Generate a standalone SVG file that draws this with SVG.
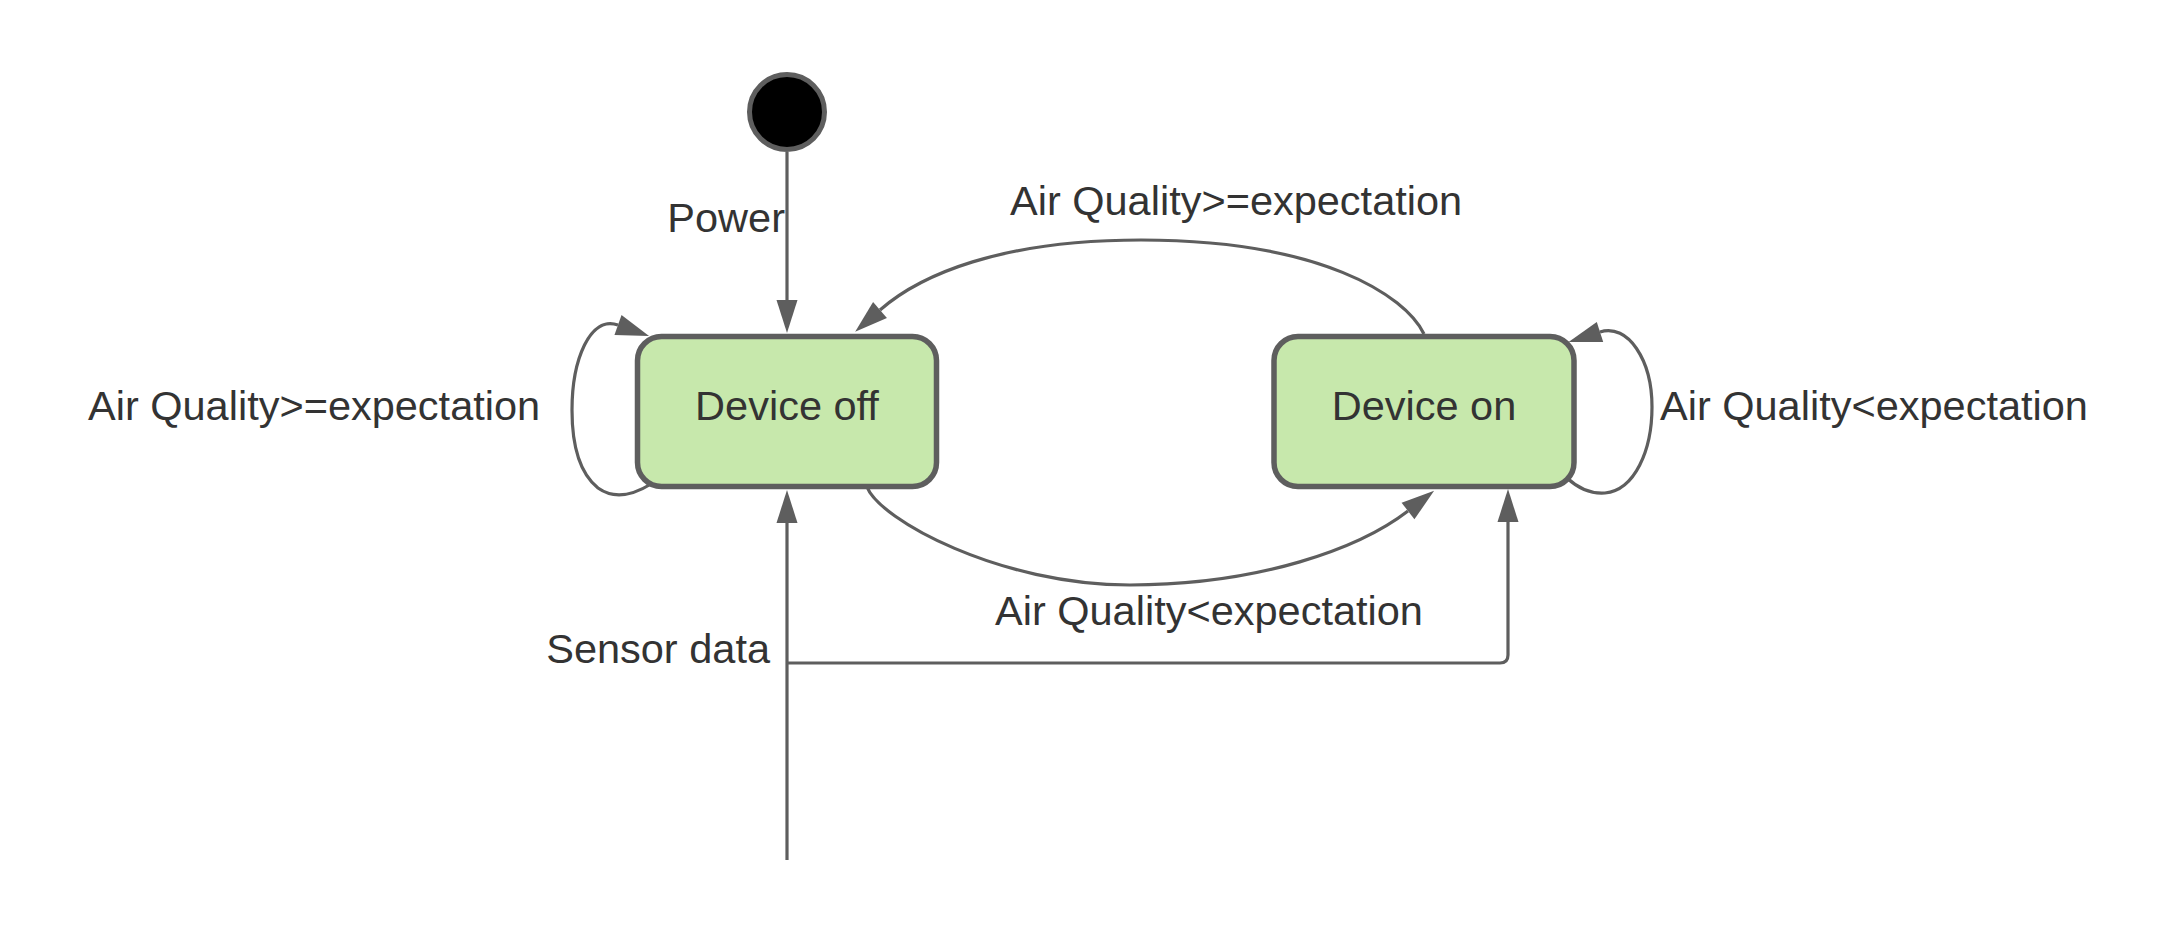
<svg xmlns="http://www.w3.org/2000/svg" width="2175" height="936" viewBox="0 0 2175 936">
<style>
.node rect{fill:#c7e8ac;stroke:#5e5e5e;stroke-width:5.5}
.lbl{font-family:"Liberation Sans",Arial,sans-serif;font-size:41.5px;fill:#333333}
.mid{text-anchor:middle}
.end{text-anchor:end}
.edge{fill:none;stroke:#5e5e5e;stroke-width:3.2}
</style>
<defs>
<marker id="arr" markerUnits="userSpaceOnUse" markerWidth="34" markerHeight="22" refX="0" refY="10.5" orient="auto" overflow="visible">
<path d="M0,0 L33,10.5 L0,21 Z" fill="#5e5e5e"/>
</marker>
</defs>
<rect width="2175" height="936" fill="#ffffff"/>
<g id="connectors">
<path class="edge" d="M787 152 L787 300" marker-end="url(#arr)"/>
<path class="edge" d="M1424 334 C1405 295 1320 240 1141 240 C1000 240 920 275 880 310" marker-end="url(#arr)"/>
<path class="edge" d="M867 487 C880 520 1000 585 1130 585 C1260 585 1360 548 1408 511" marker-end="url(#arr)"/>
<path class="edge" d="M651 484 C630 497 612 498 598 488 C578 472 572 440 572 410 C572 360 590 315 618 325" marker-end="url(#arr)"/>
<path class="edge" d="M1567 478 C1580 490 1592 494 1605 493 C1635 490 1652 450 1652 407 C1652 360 1628 323 1600 332" marker-end="url(#arr)"/>
<path class="edge" d="M787 860 L787 523" marker-end="url(#arr)"/>
<path class="edge" d="M787 663 L1500 663 Q1508 663 1508 655 L1508 522" marker-end="url(#arr)"/>
</g>
<g id="start">
<circle cx="787" cy="112" r="37.5" fill="#000000" stroke="#5e5e5e" stroke-width="5"/>
</g>
<g id="device-off" class="node">
<rect x="637.5" y="336.5" width="299" height="150" rx="24"/>
<text class="lbl mid" x="787" y="420">Device off</text>
</g>
<g id="device-on" class="node">
<rect x="1274" y="336.5" width="300" height="150" rx="24"/>
<text class="lbl mid" x="1424" y="420">Device on</text>
</g>
<g id="labels">
<text class="lbl end" x="785" y="232">Power</text>
<text class="lbl" x="1010" y="215">Air Quality&gt;=expectation</text>
<text class="lbl" x="88" y="420">Air Quality&gt;=expectation</text>
<text class="lbl" x="1660" y="420">Air Quality&lt;expectation</text>
<text class="lbl" x="995" y="625">Air Quality&lt;expectation</text>
<text class="lbl end" x="770" y="663">Sensor data</text>
</g>
</svg>
